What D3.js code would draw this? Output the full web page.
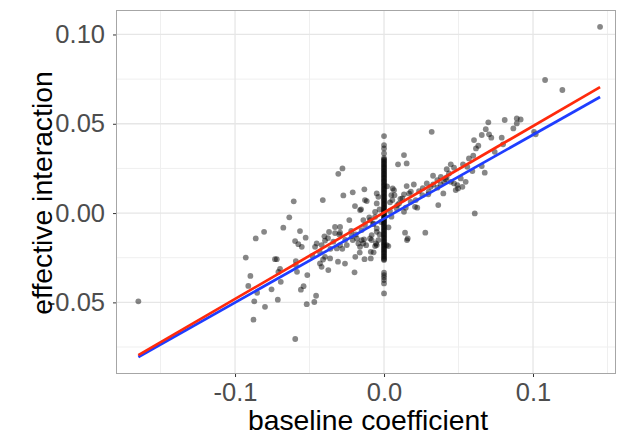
<!DOCTYPE html>
<html>
<head>
<meta charset="utf-8">
<script src="https://cdn.jsdelivr.net/npm/d3@7"></script>
<style>
  html, body { margin: 0; padding: 0; background: #fff; }
  svg { display: block; }
  text { font-family: "Liberation Sans", Arial, sans-serif; }
</style>
</head>
<body>
<svg id="chart" width="617" height="438"></svg>
<script>
// ---------- data ----------
const xTicks = [-0.1, 0.0, 0.1];
const xTickLabels = ["-0.1", "0.0", "0.1"];
const xMinor = [-0.15, -0.05, 0.05, 0.15];
const yTicks = [-0.05, 0.0, 0.05, 0.10];
const yTickLabels = ["-0.05", "0.00", "0.05", "0.10"];
const yMinor = [-0.075, -0.025, 0.025, 0.075];

const xLabel = "baseline coefficient";
const yLabel = "effective interaction";

// scattered points (baseline coefficient, effective interaction)
const pointX = [
 -0.1649,-0.0928,-0.0897,-0.0911,-0.0871,-0.0852,-0.0799,-0.0876,-0.0755,-0.0713,
 -0.0693,-0.0709,-0.0698,-0.0732,-0.0720,-0.0592,-0.0592,-0.0584,-0.0515,-0.0540,
 -0.0558,-0.0519,-0.0468,-0.0456,-0.0596,-0.0419,-0.0430,-0.0409,-0.0374,-0.0362,
 -0.0396,-0.0309,-0.0262,-0.0198,-0.0193,-0.0163,-0.0131,-0.0089,-0.0089,-0.0049,
 -0.0083,-0.0210,-0.0172,-0.0150,-0.0552,-0.0575,-0.0597,-0.0452,-0.0463,-0.0418,
 -0.0295,-0.0317,-0.0279,-0.0307,-0.0273,-0.0210,-0.0132,-0.0411,-0.0606,-0.0195,
 -0.0154,-0.0116,-0.0038,-0.0049,-0.0636,-0.0676,-0.0805,-0.0861,-0.0564,-0.0526,
 -0.0233,-0.0329,-0.0295,-0.0369,-0.0329,-0.0295,-0.0376,-0.0396,-0.0183,-0.0217,
 -0.0150,-0.0128,-0.0094,-0.0072,-0.0049,-0.0094,-0.0038,-0.0161,-0.0250,
  0.0320, 0.0134, 0.0094, 0.0700, 0.0810, 0.0891, 0.0917, 0.0868, 0.1018, 0.1007,
  0.0683, 0.0656, 0.0705, 0.0720, 0.0790, 0.0604, 0.0633, 0.0617, 0.0799, 0.0743,
  0.0599, 0.0570, 0.0656, 0.0676, 0.0593, 0.0530, 0.0559, 0.0448, 0.0470, 0.0421,
  0.0436, 0.0515, 0.0548, 0.0526, 0.0492, 0.0470, 0.0481, 0.0497, 0.0448, 0.0403,
  0.0414, 0.0381, 0.0358, 0.0329, 0.0287, 0.0313, 0.0297, 0.0398, 0.0358, 0.0364,
  0.0235, 0.0257, 0.0213, 0.0223, 0.0208, 0.0152, 0.0168, 0.0134, 0.0123, 0.0179,
  0.0101, 0.0067, 0.0049, 0.0056, 0.0089, 0.0040, 0.0134, 0.0146, 0.0085, 0.0609,
  0.0141, 0.0277, 0.0159, 0.1081, 0.1197, 0.1450, 0.0891, 0.0152,
 -0.0139,-0.0060, 0.0029, 0.0154, 0.0018,-0.0128,-0.0161,-0.0049,-0.0060,-0.0072,
 -0.0049,-0.0083, 0.0058,-0.0139,-0.0099,-0.0060,-0.0134,-0.0054,
 -0.0300,-0.0260,-0.0340,-0.0220,-0.0190,-0.0280,-0.0360,-0.0430,-0.0480,-0.0400,
 -0.0120,-0.0070,-0.0030,-0.0020,-0.0030,
  0.0040, 0.0070, 0.0110, 0.0180, 0.0200, 0.0260, 0.0300, 0.0330, 0.0380, 0.0420,
  0.0050, 0.0020, 0.0030
];
const pointY = [
 -0.0494,-0.0249,-0.0352,-0.0408,-0.0494,-0.0446,-0.0525,-0.0597,-0.0427,-0.0485,
 -0.0385,-0.0330,-0.0312,-0.0258,-0.0258,-0.0269,-0.0291,-0.0329,-0.0347,-0.0409,
 -0.0429,-0.0510,-0.0498,-0.0463,-0.0705,-0.0301,-0.0282,-0.0260,-0.0319,-0.0254,
 -0.0245,-0.0272,-0.0283,-0.0332,-0.0245,-0.0221,-0.0258,-0.0254,-0.0217,-0.0179,
 -0.0151,-0.0151,-0.0170,-0.0151,-0.0189,-0.0174,-0.0157,-0.0170,-0.0189,-0.0179,
 -0.0179,-0.0198, 0.0250, 0.0220, 0.0099, 0.0116, 0.0133, 0.0073, 0.0066, 0.0039,
  0.0021, 0.0067, 0.0091, 0.0054,-0.0024,-0.0082,-0.0105,-0.0142,-0.0101,-0.0138,
 -0.0039,-0.0078,-0.0078,-0.0106,-0.0112,-0.0110,-0.0140,-0.0154,-0.0142,-0.0129,
 -0.0095,-0.0067,-0.0039,-0.0062,-0.0105,-0.0142,-0.0151,-0.0189,-0.0179,
  0.0455, 0.0325, 0.0273, 0.0508, 0.0521, 0.0530, 0.0524, 0.0474, 0.0441, 0.0455,
  0.0470, 0.0437, 0.0441, 0.0422, 0.0422, 0.0409, 0.0377, 0.0362, 0.0385, 0.0343,
  0.0321, 0.0306, 0.0263, 0.0226, 0.0235, 0.0273, 0.0259, 0.0273, 0.0254, 0.0246,
  0.0222, 0.0194, 0.0175, 0.0147, 0.0157, 0.0166, 0.0129, 0.0138, 0.0175, 0.0175,
  0.0190, 0.0203, 0.0185, 0.0209, 0.0166, 0.0147, 0.0105, 0.0110, 0.0142, 0.0045,
  0.0123, 0.0101, 0.0073, 0.0030, 0.0035, 0.0151, 0.0110, 0.0105, 0.0082, 0.0063,
  0.0054, 0.0129, 0.0101, 0.0073, 0.0045, 0.0011, 0.0007, 0.0030, 0.0026,-0.0002,
 -0.0110,-0.0110,-0.0142, 0.0745, 0.0689, 0.1043, 0.0502, 0.0278,
 -0.0170,-0.0185,-0.0185,-0.0151,-0.0179, 0.0073, 0.0017, 0.0110,-0.0021,-0.0058,
 -0.0086,-0.0123, 0.0138,-0.0039,-0.0024, 0.0007,-0.0147,-0.0170,
 -0.0120,-0.0150,-0.0160,-0.0100,-0.0120,-0.0200,-0.0200,-0.0220,-0.0240,-0.0130,
 -0.0180,-0.0220,-0.0120,-0.0050, 0.0020,
  0.0060, 0.0100, 0.0080, 0.0120, 0.0160, 0.0140, 0.0120, 0.0160, 0.0160, 0.0200,
 -0.0020, 0.0150,-0.0080
];

// the many points sitting at baseline coefficient = 0
const zeroColumnY = [
  0.0431, 0.0381, 0.0362, 0.0334, 0.0308, 0.0301, 0.0295, 0.0287, 0.0280, 0.0274,
  0.0266, 0.0259, 0.0253, 0.0246, 0.0238, 0.0232, 0.0224, 0.0218, 0.0211, 0.0203,
  0.0197, 0.0190, 0.0182, 0.0176, 0.0169, 0.0161, 0.0155, 0.0148, 0.0140, 0.0134,
  0.0127, 0.0119, 0.0113, 0.0106, 0.0098, 0.0092, 0.0085, 0.0077, 0.0071, 0.0064,
  0.0056, 0.0050, 0.0043, 0.0035, 0.0029, 0.0022, 0.0014, 0.0008, 0.0001,-0.0007,
 -0.0013,-0.0020,-0.0028,-0.0034,-0.0041,-0.0049,-0.0055,-0.0062,-0.0070,-0.0076,
 -0.0083,-0.0091,-0.0097,-0.0104,-0.0112,-0.0118,-0.0125,-0.0133,-0.0139,-0.0146,
 -0.0154,-0.0160,-0.0167,-0.0175,-0.0181,-0.0188,-0.0196,-0.0202,-0.0209,-0.0217,
 -0.0223,-0.0230,-0.0238,-0.0244,-0.0251,-0.0258,-0.0263,
 -0.0334,-0.0347,-0.0360,-0.0375,-0.0394,-0.0450
];

// fitted lines (endpoints over the data range)
const fitX = [-0.1649, 0.1450];
const redFitY = [-0.0795, 0.0705];
const blueFitY = [-0.0806, 0.0650];

// ---------- layout ----------
const panel = { left: 116, right: 616, top: 10, bottom: 374 };

const svg = d3.select("#chart");

const x = d3.scaleLinear().domain([-0.1799, 0.1557]).range([panel.left, panel.right]);
const y = d3.scaleLinear().domain([-0.0901, 0.1137]).range([panel.bottom, panel.top]);

svg.append("rect")
  .attr("x", panel.left).attr("y", panel.top)
  .attr("width", panel.right - panel.left).attr("height", panel.bottom - panel.top)
  .attr("fill", "#fff");

const grid = svg.append("g");
grid.selectAll(".xmin").data(xMinor).join("line")
  .attr("x1", d => x(d)).attr("x2", d => x(d))
  .attr("y1", panel.top).attr("y2", panel.bottom)
  .attr("stroke", "#efefef").attr("stroke-width", 1);
grid.selectAll(".ymin").data(yMinor).join("line")
  .attr("y1", d => y(d)).attr("y2", d => y(d))
  .attr("x1", panel.left).attr("x2", panel.right)
  .attr("stroke", "#efefef").attr("stroke-width", 1);
grid.selectAll(".xmaj").data(xTicks).join("line")
  .attr("x1", d => x(d)).attr("x2", d => x(d))
  .attr("y1", panel.top).attr("y2", panel.bottom)
  .attr("stroke", "#e6e6e6").attr("stroke-width", 1.3);
grid.selectAll(".ymaj").data(yTicks).join("line")
  .attr("y1", d => y(d)).attr("y2", d => y(d))
  .attr("x1", panel.left).attr("x2", panel.right)
  .attr("stroke", "#e6e6e6").attr("stroke-width", 1.3);

// points
const pts = pointX.map((d, i) => ({ x: d, y: pointY[i] }))
  .concat(zeroColumnY.map(v => ({ x: 0, y: v })));
svg.append("g").selectAll("circle").data(pts).join("circle")
  .attr("cx", d => x(d.x)).attr("cy", d => y(d.y))
  .attr("r", 2.9)
  .attr("fill", "#000").attr("fill-opacity", 0.47);

// fit lines
const line = d3.line().x(d => x(d[0])).y(d => y(d[1]));
svg.append("path")
  .attr("d", line(fitX.map((v, i) => [v, blueFitY[i]])))
  .attr("fill", "none").attr("stroke", "#1f3dff").attr("stroke-width", 2.7);
svg.append("path")
  .attr("d", line(fitX.map((v, i) => [v, redFitY[i]])))
  .attr("fill", "none").attr("stroke", "#ff2a0c").attr("stroke-width", 2.7);

// panel border
svg.append("rect")
  .attr("x", panel.left + 0.5).attr("y", panel.top + 0.5)
  .attr("width", panel.right - panel.left - 1).attr("height", panel.bottom - panel.top - 1)
  .attr("fill", "none").attr("stroke", "#a6a6a6").attr("stroke-width", 1);

// axes
const xAxis = d3.axisBottom(x).tickValues(xTicks)
  .tickFormat((d, i) => xTickLabels[i]).tickSize(3).tickPadding(6);
const gx = svg.append("g").attr("transform", `translate(0,${panel.bottom})`).call(xAxis);
gx.select(".domain").remove();
gx.selectAll(".tick line").attr("stroke", "#333").attr("stroke-width", 1);
gx.selectAll(".tick text").attr("font-size", 25.5).attr("fill", "#4d4d4d")
  .attr("font-family", "Liberation Sans, Arial, sans-serif");

const yAxis = d3.axisLeft(y).tickValues(yTicks)
  .tickFormat((d, i) => yTickLabels[i]).tickSize(3).tickPadding(8);
const gy = svg.append("g").attr("transform", `translate(${panel.left},0)`).call(yAxis);
gy.select(".domain").remove();
gy.selectAll(".tick line").attr("stroke", "#333").attr("stroke-width", 1);
gy.selectAll(".tick text").attr("font-size", 25.5).attr("fill", "#4d4d4d")
  .attr("font-family", "Liberation Sans, Arial, sans-serif");

// axis titles
svg.append("text")
  .attr("x", (panel.left + panel.right) / 2 + 2).attr("y", 430)
  .attr("text-anchor", "middle").attr("font-size", 28.3).attr("fill", "#000")
  .text(xLabel);
svg.append("text")
  .attr("transform", `translate(52,${(panel.top + panel.bottom) / 2 + 1}) rotate(-90)`)
  .attr("text-anchor", "middle").attr("font-size", 28.3).attr("fill", "#000")
  .text(yLabel);
</script>
</body>
</html>
